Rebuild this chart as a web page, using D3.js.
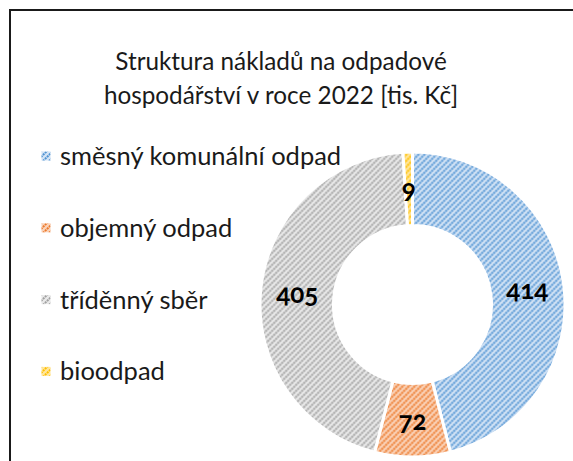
<!DOCTYPE html>
<html>
<head>
<meta charset="utf-8">
<script src="https://cdn.jsdelivr.net/npm/d3@7/dist/d3.min.js"></script>
<style>
  html, body { margin: 0; padding: 0; background: #fff; }
  svg { display: block; }
  text { font-family: Lato, "Open Sans", sans-serif; }
</style>
</head>
<body>
<script>
// ---- data ----
const categories = ["směsný komunální odpad", "objemný odpad", "tříděnný sběr", "bioodpad"];
const values = [414, 72, 405, 9];
const titleLines = ["Struktura nákladů na odpadové", "hospodářství v roce 2022 [tis. Kč]"];
const lineColors = ["#4f93d2", "#ec7a2c", "#a0a0a0", "#ffc000"];
const bgColors = ["#d3e3f5", "#fad2b8", "#e9e9e9", "#ffe69e"];

const W = 573, H = 461;
const svg = d3.select("body").append("svg").attr("width", W).attr("height", H);

// chart border (extends beyond the viewport on right/bottom)
svg.append("rect").attr("x", 10).attr("y", 10).attr("width", 600).attr("height", 500)
  .attr("fill", "#fff").attr("stroke", "#1a1a1a").attr("stroke-width", 2);

// patterns
const defs = svg.append("defs");
categories.forEach((c, i) => {
  const p = defs.append("pattern").attr("id", "pat" + i)
    .attr("patternUnits", "userSpaceOnUse").attr("width", 6).attr("height", 6);
  p.append("rect").attr("width", 6).attr("height", 6).attr("fill", bgColors[i]);
  p.append("path").attr("d", "M-1,7 L7,-1 M-1,1 L1,-1 M5,7 L7,5")
    .attr("stroke", lineColors[i]).attr("stroke-width", 2)
    .attr("stroke-dasharray", "2,0.8");
});

// title
const title = svg.append("text").attr("text-anchor", "middle")
  .attr("font-size", 24.3).attr("fill", "#1a1a1a");
titleLines.forEach((t, i) => {
  title.append("tspan").attr("x", 281).attr("y", 70 + i * 33.5).text(t);
});

// legend
const leg = svg.append("g");
categories.forEach((c, i) => {
  const y = 165 + i * 71.8;
  leg.append("rect").attr("x", 41.5).attr("y", y - 13.5).attr("width", 9).attr("height", 9)
    .attr("fill", "url(#pat" + i + ")");
  leg.append("text").attr("x", 60).attr("y", y).attr("font-size", 25.5)
    .attr("fill", "#1a1a1a").text(c);
});

// donut
const cx = 412.5, cy = 304.5, rOut = 152.5, rIn = 79;
const pie = d3.pie().sort(null).value(d => d)(values);
const arc = d3.arc().innerRadius(rIn).outerRadius(rOut);
const labelArc = d3.arc().innerRadius((rIn + rOut) / 2).outerRadius((rIn + rOut) / 2);
const g = svg.append("g").attr("transform", `translate(${cx},${cy})`);
g.selectAll("path.slice").data(pie).enter().append("path")
  .attr("class", "slice")
  .attr("d", arc)
  .attr("fill", (d, i) => "url(#pat" + i + ")")
  .attr("stroke", "#fff").attr("stroke-width", 3);

g.selectAll("text.lbl").data(pie).enter().append("text")
  .attr("class", "lbl")
  .attr("transform", d => `translate(${labelArc.centroid(d)})`)
  .attr("text-anchor", "middle").attr("dy", "0.36em")
  .attr("font-size", 26).attr("font-weight", "bold").attr("fill", "#000")
  .style("font-variant-numeric", "oldstyle-nums")
  .text(d => d.data);
</script>
</body>
</html>
